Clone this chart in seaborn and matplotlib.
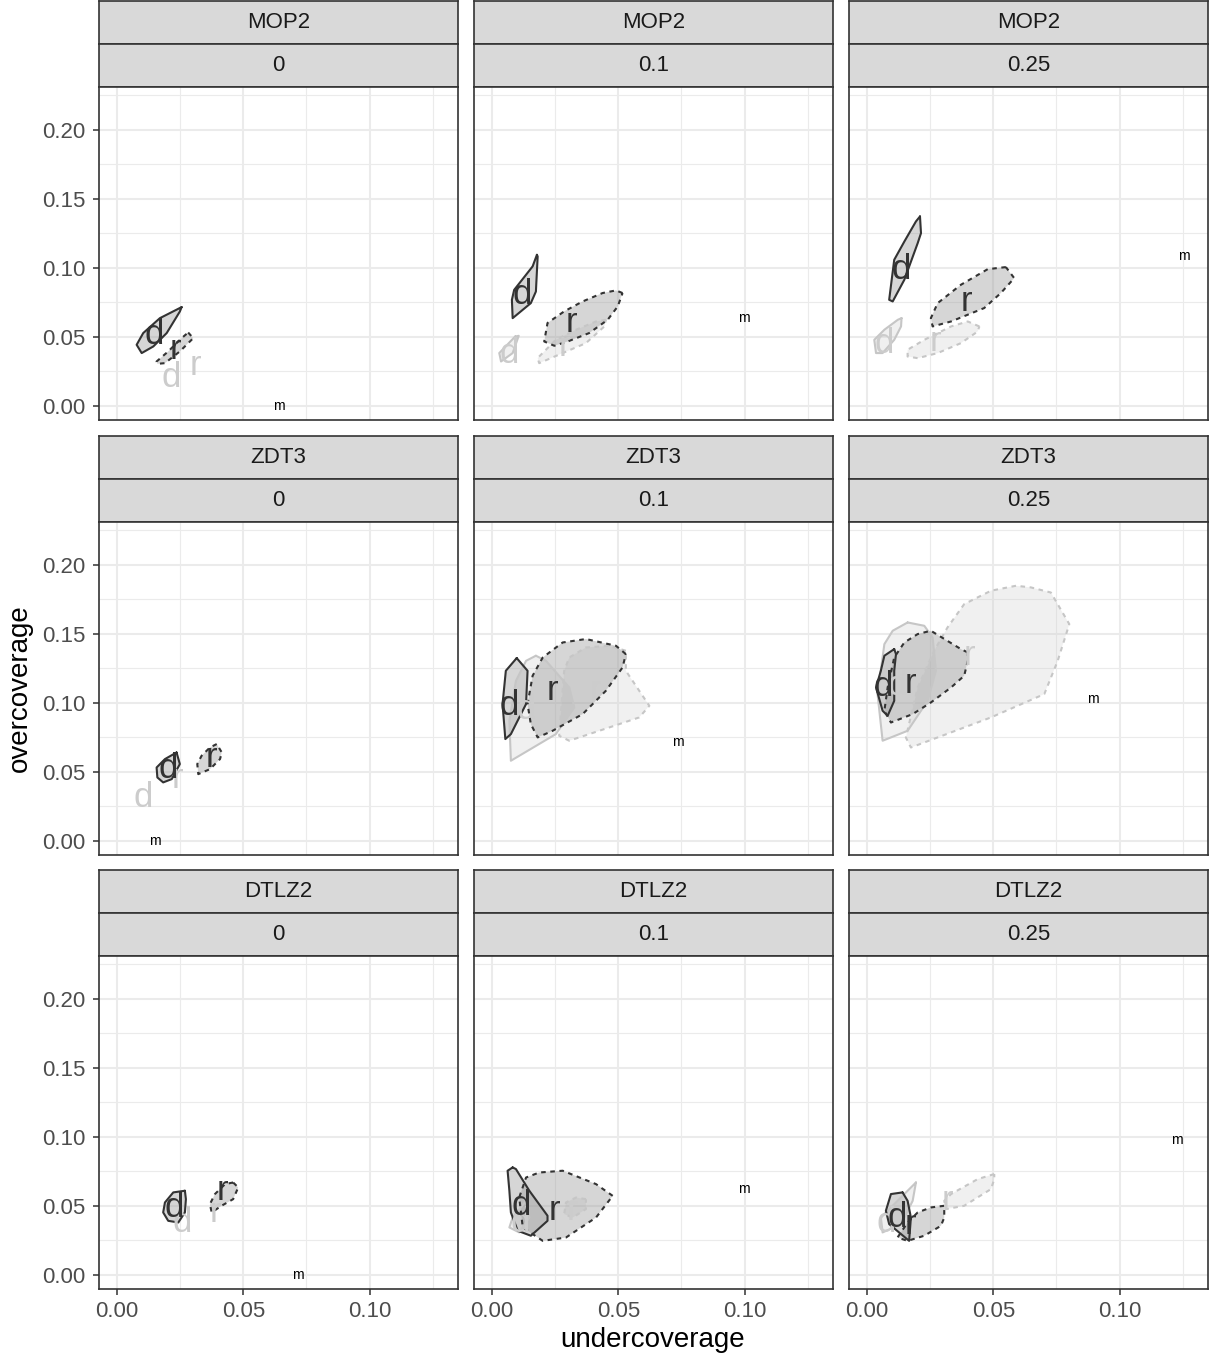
import matplotlib
matplotlib.use("Agg")
import matplotlib.pyplot as plt
import pandas as pd
import seaborn as sns

# ==================================================
# Data (undercoverage, overcoverage), panels in row-major order
# ==================================================

problems = ["MOP2", "ZDT3", "DTLZ2"]
noise_levels = ["0", "0.1", "0.25"]

x_ticks = [0.00, 0.05, 0.10]
x_tick_labels = ["0.00", "0.05", "0.10"]
y_ticks = [0.00, 0.05, 0.10, 0.15, 0.20]
y_tick_labels = ["0.00", "0.05", "0.10", "0.15", "0.20"]

# convex hulls of the "d" runs, dark group
hull_d_dark = [
    [(0.0256, 0.0715), (0.0170, 0.0635), (0.0104, 0.0527), (0.0078, 0.0442), (0.0098, 0.0382), (0.0144, 0.0430), (0.0197, 0.0527), (0.0249, 0.0683)],
    [(0.0178, 0.1094), (0.0161, 0.1010), (0.0088, 0.0840), (0.0079, 0.0768), (0.0082, 0.0635), (0.0154, 0.0744), (0.0174, 0.0828), (0.0181, 0.1082)],
    [(0.0210, 0.1372), (0.0194, 0.1336), (0.0148, 0.1190), (0.0108, 0.1058), (0.0088, 0.0768), (0.0102, 0.0756), (0.0148, 0.0913), (0.0201, 0.1179), (0.0214, 0.1251)],
    [(0.0236, 0.0640), (0.0190, 0.0592), (0.0157, 0.0531), (0.0160, 0.0459), (0.0183, 0.0423), (0.0217, 0.0447), (0.0249, 0.0556)],
    [(0.0098, 0.1324), (0.0055, 0.1232), (0.0042, 0.0991), (0.0053, 0.0737), (0.0075, 0.0773), (0.0135, 0.0991), (0.0141, 0.1232)],
    [(0.0108, 0.1389), (0.0069, 0.1341), (0.0055, 0.1232), (0.0036, 0.1111), (0.0062, 0.0942), (0.0082, 0.0906), (0.0108, 0.1014), (0.0108, 0.1232), (0.0115, 0.1353)],
    [(0.0269, 0.0609), (0.0223, 0.0597), (0.0190, 0.0524), (0.0183, 0.0452), (0.0203, 0.0391), (0.0243, 0.0379), (0.0269, 0.0452), (0.0273, 0.0548)],
    [(0.0082, 0.0778), (0.0062, 0.0754), (0.0069, 0.0609), (0.0075, 0.0452), (0.0102, 0.0319), (0.0154, 0.0283), (0.0220, 0.0391), (0.0220, 0.0428), (0.0148, 0.0609), (0.0095, 0.0766)],
    [(0.0141, 0.0597), (0.0095, 0.0585), (0.0075, 0.0464), (0.0088, 0.0367), (0.0135, 0.0295), (0.0167, 0.0246), (0.0174, 0.0415), (0.0161, 0.0536)],
]

# convex hulls of the "r" runs, dark group
hull_r_dark = [
    [(0.0282, 0.0531), (0.0302, 0.0490), (0.0249, 0.0394), (0.0190, 0.0309), (0.0160, 0.0304), (0.0157, 0.0321), (0.0203, 0.0394), (0.0256, 0.0490)],
    [(0.0517, 0.0817), (0.0491, 0.0836), (0.0438, 0.0817), (0.0359, 0.0756), (0.0286, 0.0684), (0.0220, 0.0600), (0.0207, 0.0466), (0.0247, 0.0435), (0.0300, 0.0466), (0.0385, 0.0527), (0.0458, 0.0623), (0.0498, 0.0720)],
    [(0.0550, 0.1005), (0.0478, 0.0990), (0.0372, 0.0877), (0.0280, 0.0744), (0.0253, 0.0635), (0.0260, 0.0575), (0.0333, 0.0611), (0.0464, 0.0708), (0.0530, 0.0817), (0.0583, 0.0925)],
    [(0.0395, 0.0701), (0.0368, 0.0676), (0.0335, 0.0616), (0.0318, 0.0556), (0.0322, 0.0483), (0.0368, 0.0519), (0.0408, 0.0592), (0.0415, 0.0640)],
    [(0.0530, 0.1353), (0.0491, 0.1413), (0.0372, 0.1462), (0.0280, 0.1437), (0.0201, 0.1328), (0.0161, 0.1196), (0.0141, 0.0991), (0.0154, 0.0845), (0.0181, 0.0749), (0.0240, 0.0797), (0.0359, 0.0918), (0.0451, 0.1087), (0.0517, 0.1256)],
    [(0.0399, 0.1365), (0.0372, 0.1389), (0.0253, 0.1522), (0.0201, 0.1498), (0.0148, 0.1437), (0.0108, 0.1328), (0.0082, 0.1111), (0.0069, 0.0942), (0.0095, 0.0857), (0.0181, 0.0918), (0.0253, 0.1002), (0.0333, 0.1111), (0.0385, 0.1196), (0.0399, 0.1304)],
    [(0.0460, 0.0669), (0.0428, 0.0657), (0.0388, 0.0585), (0.0368, 0.0512), (0.0375, 0.0452), (0.0414, 0.0500), (0.0460, 0.0548), (0.0480, 0.0633)],
    [(0.0478, 0.0572), (0.0412, 0.0657), (0.0280, 0.0754), (0.0187, 0.0741), (0.0135, 0.0705), (0.0108, 0.0560), (0.0122, 0.0343), (0.0201, 0.0246), (0.0293, 0.0270), (0.0412, 0.0415)],
    [(0.0306, 0.0500), (0.0253, 0.0488), (0.0201, 0.0452), (0.0161, 0.0379), (0.0121, 0.0270), (0.0161, 0.0246), (0.0227, 0.0283), (0.0293, 0.0355), (0.0306, 0.0415)],
]

# convex hulls of the "d" runs, light group
hull_d_light = [
    [],
    [(0.0092, 0.0502), (0.0106, 0.0507), (0.0082, 0.0382), (0.0036, 0.0321), (0.0029, 0.0382)],
    [(0.0137, 0.0635), (0.0122, 0.0623), (0.0069, 0.0551), (0.0029, 0.0478), (0.0036, 0.0382), (0.0062, 0.0382), (0.0108, 0.0478), (0.0135, 0.0575)],
    [],
    [(0.0174, 0.1341), (0.0135, 0.1304), (0.0095, 0.1159), (0.0069, 0.0870), (0.0075, 0.0580), (0.0253, 0.0773), (0.0326, 0.0966), (0.0306, 0.1111), (0.0214, 0.1304)],
    [(0.0161, 0.1582), (0.0102, 0.1522), (0.0069, 0.1425), (0.0042, 0.1063), (0.0062, 0.0725), (0.0161, 0.0797), (0.0240, 0.1014), (0.0273, 0.1232), (0.0260, 0.1473), (0.0227, 0.1558)],
    [],
    [(0.0135, 0.0536), (0.0082, 0.0415), (0.0069, 0.0343), (0.0108, 0.0307), (0.0148, 0.0415)],
    [(0.0194, 0.0669), (0.0108, 0.0512), (0.0055, 0.0415), (0.0062, 0.0307), (0.0135, 0.0367), (0.0181, 0.0536)],
]

# convex hulls of the "r" runs, light group
hull_r_light = [
    [],
    [(0.0451, 0.0623), (0.0412, 0.0611), (0.0333, 0.0551), (0.0253, 0.0478), (0.0181, 0.0346), (0.0187, 0.0309), (0.0280, 0.0382), (0.0372, 0.0454), (0.0445, 0.0575)],
    [(0.0445, 0.0575), (0.0399, 0.0611), (0.0333, 0.0575), (0.0227, 0.0478), (0.0161, 0.0406), (0.0161, 0.0357), (0.0201, 0.0345), (0.0280, 0.0382), (0.0372, 0.0454), (0.0438, 0.0538)],
    [],
    [(0.0530, 0.1377), (0.0464, 0.1413), (0.0372, 0.1401), (0.0306, 0.1328), (0.0286, 0.1232), (0.0266, 0.0761), (0.0306, 0.0725), (0.0464, 0.0821), (0.0583, 0.0894), (0.0623, 0.0978), (0.0530, 0.1232)],
    [(0.0590, 0.1848), (0.0491, 0.1812), (0.0385, 0.1715), (0.0319, 0.1546), (0.0266, 0.1377), (0.0201, 0.1111), (0.0154, 0.0749), (0.0174, 0.0676), (0.0491, 0.0894), (0.0702, 0.1063), (0.0755, 0.1304), (0.0801, 0.1570), (0.0728, 0.1799), (0.0649, 0.1836)],
    [],
    [(0.0372, 0.0548), (0.0333, 0.0560), (0.0293, 0.0524), (0.0286, 0.0440), (0.0320, 0.0415), (0.0372, 0.0476)],
    [(0.0504, 0.0730), (0.0438, 0.0693), (0.0333, 0.0585), (0.0306, 0.0536), (0.0313, 0.0476), (0.0385, 0.0500), (0.0491, 0.0621), (0.0504, 0.0693)],
]

# letter positions (hull centres)
label_d_dark = [(0.0146, 0.0514), (0.0121, 0.0804), (0.0135, 0.0986), (0.0202, 0.0522), (0.0067, 0.0978),
                (0.0063, 0.1116), (0.0226, 0.0486), (0.0115, 0.0500), (0.0121, 0.0415)]
label_r_dark = [(0.0230, 0.0406), (0.0313, 0.0600), (0.0392, 0.0756), (0.0376, 0.0601), (0.0241, 0.1087),
                (0.0174, 0.1138), (0.0416, 0.0609), (0.0246, 0.0464), (0.0174, 0.0367)]
label_d_light = [(0.0214, 0.0203), (0.0069, 0.0382), (0.0069, 0.0454), (0.0103, 0.0312), (0.0135, 0.0950),
                 (0.0121, 0.1123), (0.0257, 0.0377), (0.0111, 0.0377), (0.0075, 0.0379)]
label_r_light = [(0.0309, 0.0290), (0.0286, 0.0430), (0.0273, 0.0466), (0.0238, 0.0449), (0.0408, 0.1087),
                 (0.0404, 0.1341), (0.0388, 0.0449), (0.0320, 0.0464), (0.0319, 0.0536)]

# "m" reference points
m_under = [0.0641, 0.0998, 0.1255, 0.0150, 0.0735, 0.0895, 0.0717, 0.0998, 0.1227]
m_over = [0.0000, 0.0638, 0.1087, 0.0000, 0.0713, 0.1029, 0.0000, 0.0623, 0.0978]

# ==================================================
# Long table of hull outlines for seaborn
# ==================================================

rows = []
for k in range(9):
    for shade, kind, hulls in [("light", "d", hull_d_light), ("light", "r", hull_r_light),
                               ("dark", "d", hull_d_dark), ("dark", "r", hull_r_dark)]:
        pts = hulls[k]
        if not pts:
            continue
        for order, (x, y) in enumerate(pts + pts[:1]):
            rows.append({"panel": k, "hull": shade + kind, "shade": shade, "kind": kind,
                         "order": order, "x": x, "y": y})
hulls_df = pd.DataFrame(rows)

# ==================================================
# Style
# ==================================================

sns.set_theme(style="white")
plt.rcParams["font.family"] = ["Liberation Sans", "DejaVu Sans"]

EDGE = {"dark": "#333333", "light": "#c6c6c6"}
FILL = {"dark": ("#999999", 0.40), "light": ("#cccccc", 0.28)}
TEXT = {"dark": "#333333", "light": "#cccccc"}
DASHES = {"d": "", "r": (2.2, 2.2)}

W, H = 1213, 1359
fig = plt.figure(figsize=(W / 100, H / 100), dpi=100)


def box(x0, y0, x1, y1):
    return [x0 / W, 1 - y1 / H, (x1 - x0) / W, (y1 - y0) / H]


col_left = [99, 474, 849]
row_top = [1, 436, 870]
PW, STRIP, PH = 359, 43, 333

for k in range(9):
    r, c = divmod(k, 3)
    x0 = col_left[c]
    top = row_top[r]

    # strips
    for j, label in enumerate([problems[r], noise_levels[c]]):
        sax = fig.add_axes(box(x0, top + j * STRIP, x0 + PW, top + (j + 1) * STRIP))
        sax.set_facecolor("#d9d9d9")
        sax.set_xticks([])
        sax.set_yticks([])
        for sp in sax.spines.values():
            sp.set_color("#333333")
            sp.set_linewidth(1.2)
        sax.text(0.5, 0.5, label, ha="center", va="center", fontsize=16, color="#1a1a1a",
                 transform=sax.transAxes)

    ptop = top + 2 * STRIP
    ax = fig.add_axes(box(x0, ptop, x0 + PW, ptop + PH))
    ax.set_facecolor("white")
    ax.set_xlim(-0.0071, 0.1350)
    ax.set_ylim(-0.0103, 0.2310)

    ax.set_xticks(x_ticks)
    ax.set_xticks([0.025, 0.075, 0.125], minor=True)
    ax.set_yticks(y_ticks)
    ax.set_yticks([0.025, 0.075, 0.125, 0.175, 0.225], minor=True)
    ax.grid(which="major", color="#ebebeb", linewidth=1.5, zorder=0)
    ax.grid(which="minor", color="#ebebeb", linewidth=0.8, zorder=0)
    ax.set_axisbelow(True)

    # fills
    for shade, kind, hulls in [("light", "d", hull_d_light), ("light", "r", hull_r_light),
                               ("dark", "d", hull_d_dark), ("dark", "r", hull_r_dark)]:
        pts = hulls[k]
        if pts:
            fc, a = FILL[shade]
            ax.fill([p[0] for p in pts], [p[1] for p in pts], color=fc, alpha=a, lw=0, zorder=2)

    # outlines
    sub = hulls_df[hulls_df["panel"] == k]
    sns.lineplot(data=sub, x="x", y="y", units="hull", estimator=None, sort=False,
                 hue="shade", style="kind", palette=EDGE, dashes=DASHES,
                 linewidth=1.5, legend=False, ax=ax, zorder=3)

    # letters
    for labels, letter, shade in [(label_d_light, "d", "light"), (label_r_light, "r", "light"),
                                  (label_d_dark, "d", "dark"), (label_r_dark, "r", "dark")]:
        lx, ly = labels[k]
        ax.text(lx, ly, letter, fontsize=25, color=TEXT[shade], ha="center", va="center", zorder=4)
    ax.text(m_under[k], m_over[k], "m", fontsize=10, color="black", ha="center", va="center", zorder=4)

    ax.set_xlabel("")
    ax.set_ylabel("")
    for sp in ax.spines.values():
        sp.set_color("#333333")
        sp.set_linewidth(1.2)
        sp.set_visible(True)

    ax.tick_params(which="minor", length=0)
    ax.tick_params(which="major", direction="out", length=4.5, width=1.1, color="#333333",
                   labelsize=16, labelcolor="#4d4d4d")
    ax.tick_params(axis="x", pad=4)
    ax.tick_params(axis="y", pad=5)
    if c == 0:
        ax.set_yticklabels(y_tick_labels)
        ax.tick_params(axis="y", left=True)
    else:
        ax.tick_params(axis="y", left=False, labelleft=False)
    if r == 2:
        ax.set_xticklabels(x_tick_labels)
        ax.tick_params(axis="x", bottom=True)
    else:
        ax.tick_params(axis="x", bottom=False, labelbottom=False)

fig.text(653 / W, 1 - 1340 / H, "undercoverage", ha="center", va="center", fontsize=20, color="black")
fig.text(20 / W, 1 - 688 / H, "overcoverage", ha="center", va="center", rotation=90,
         fontsize=20, color="black")

fig.savefig("out.png", dpi=100)
